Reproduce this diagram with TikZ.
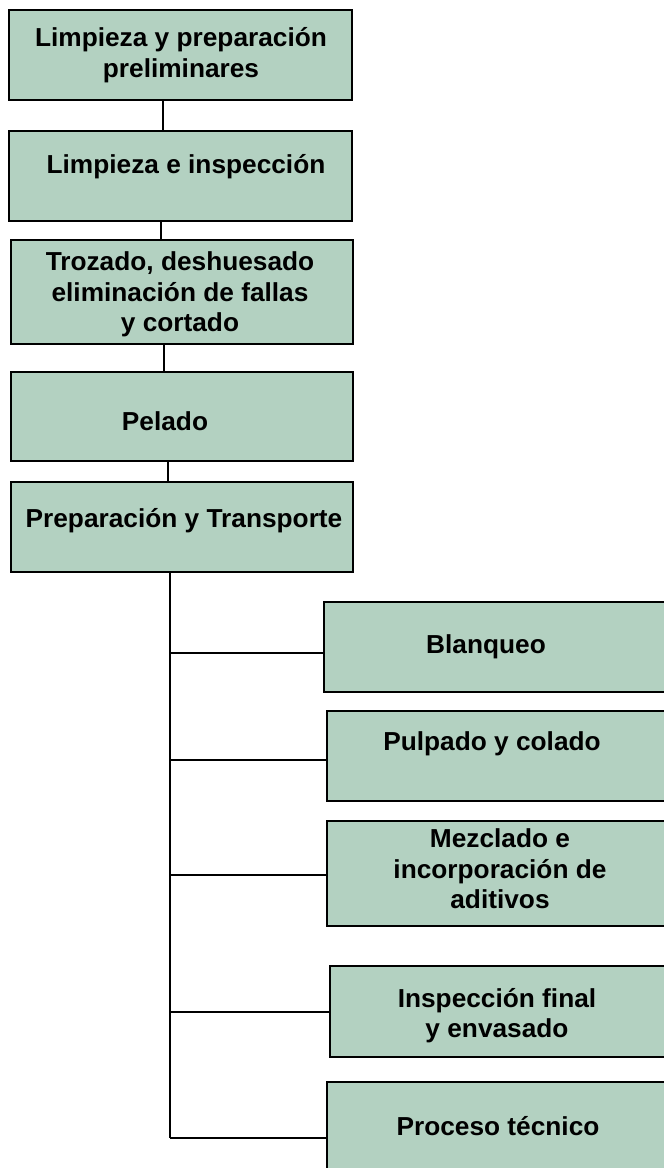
\documentclass[tikz,border=0pt]{standalone}
\usepackage{fontspec}
\newfontfamily\boxfont{Liberation Sans}[FakeStretch=1.01]
\definecolor{boxgreen}{RGB}{179,209,193}
\tikzset{
    stepbox/.style={draw=black, line width=1.8pt, fill=boxgreen, inner sep=0pt},
    steptext/.style={font=\boxfont\bfseries\fontsize{26pt}{30.5pt}\selectfont, align=center, inner sep=0pt},
    link/.style={line width=1.8pt}
}
\begin{document}
\begin{tikzpicture}[x=1pt, y=-1pt]
    \useasboundingbox (0,0) rectangle (664,1168);

    % main column
    \node[stepbox, minimum width=343pt, minimum height=90pt] (b1) at (180.5,55) {};
    \node[stepbox, minimum width=343pt, minimum height=90pt] (b2) at (180.5,176) {};
    \node[stepbox, minimum width=342pt, minimum height=104pt] (b3) at (182,292) {};
    \node[stepbox, minimum width=342pt, minimum height=89pt] (b4) at (182,416.5) {};
    \node[stepbox, minimum width=342pt, minimum height=90pt] (b5) at (182,527) {};

    \node[steptext] (t1) at (181,55) {Limpieza y preparación\\preliminares};
    \node[steptext, anchor=base] (t2) at (186,173) {Limpieza e inspección};
    \node[steptext] (t3) at (180,294.3) {Trozado, deshuesado\\eliminación de fallas\\y cortado};
    \node[steptext, anchor=base] (t4) at (165,430) {Pelado};
    \node[steptext, anchor=base] (t5) at (184,527) {Preparación y Transporte};

    \draw[link] (b1.south -| 163,0) -- (b2.north -| 163,0);
    \draw[link] (b2.south -| 161,0) -- (b3.north -| 161,0);
    \draw[link] (b3.south -| 164,0) -- (b4.north -| 164,0);
    \draw[link] (b4.south -| 168,0) -- (b5.north -| 168,0);

    % branch column
    \node[stepbox, minimum width=346pt, minimum height=90pt] (r1) at (497,647) {};
    \node[stepbox, minimum width=343pt, minimum height=90pt] (r2) at (498.5,756) {};
    \node[stepbox, minimum width=343pt, minimum height=105pt] (r3) at (498.5,873.5) {};
    \node[stepbox, minimum width=340pt, minimum height=91pt] (r4) at (500,1011.5) {};
    \node[stepbox, minimum width=343pt, minimum height=94pt] (r5) at (498.5,1129) {};

    \node[steptext, anchor=base] (u1) at (486,653) {Blanqueo};
    \node[steptext, anchor=base] (u2) at (492,750) {Pulpado y colado};
    \node[steptext] (u3) at (500,869) {Mezclado e\\incorporación de\\aditivos};
    \node[steptext] (u4) at (497,1015.5) {Inspección final\\y envasado};
    \node[steptext, anchor=base] (u5) at (498,1135) {Proceso técnico};

    \coordinate (spinebot) at (170,1138);
    \draw[link] (b5.south -| spinebot) -- (spinebot);
    \foreach \r/\d in {r1/6,r2/4,r3/1.5,r4/0.5,r5/9}{
        \coordinate (j\r) at ([yshift=-\d pt]\r.west);
        \draw[link] (spinebot |- j\r) -- (j\r);
    }
\end{tikzpicture}
\end{document}
